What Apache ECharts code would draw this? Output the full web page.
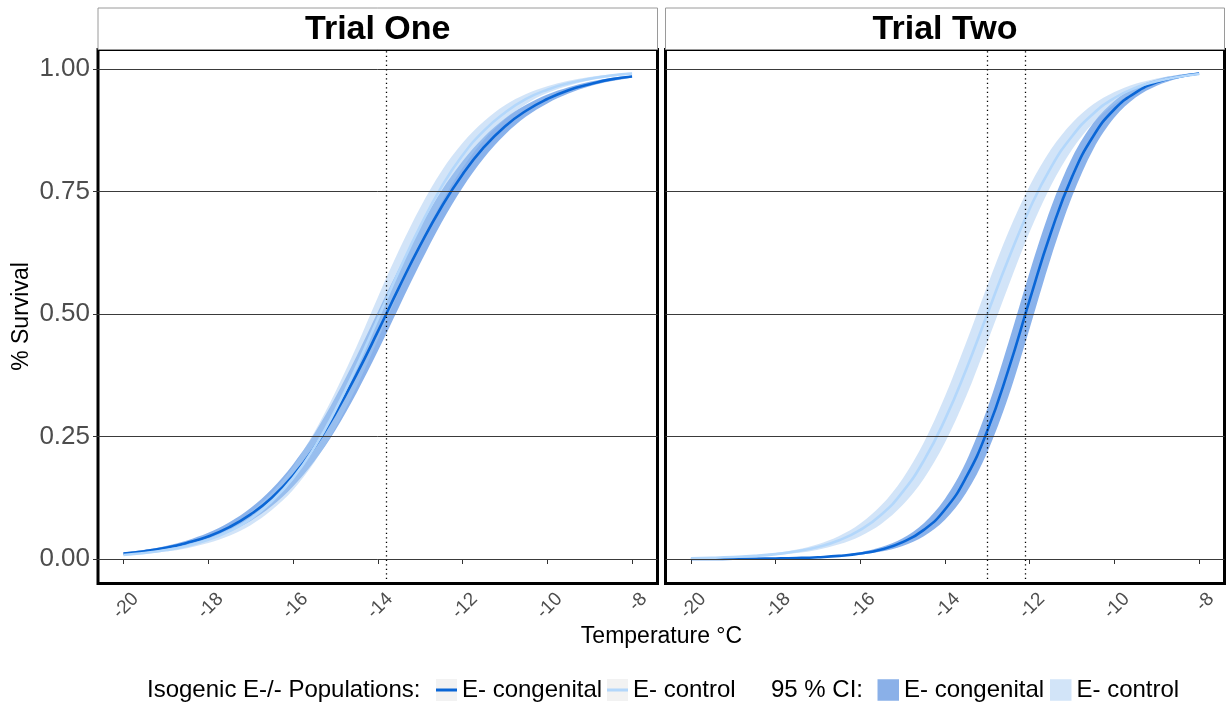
<!DOCTYPE html>
<html><head><meta charset="utf-8">
<script src="https://cdn.jsdelivr.net/npm/echarts@6/dist/echarts.min.js"></script>
<style>html,body{margin:0;padding:0;background:#fff}#c{width:1226px;height:704px}</style>
</head><body><div id="c"></div>
<script>
// ---------- data ----------
const temps = [-20,-19.5,-19,-18.5,-18,-17.5,-17,-16.5,-16,-15.5,-15,-14.5,-14,-13.5,-13,-12.5,-12,-11.5,-11,-10.5,-10,-9.5,-9,-8.5,-8];
const xTicks = [-20,-18,-16,-14,-12,-10,-8];
const yTicks = [0,0.25,0.5,0.75,1];
const panels = ['Trial One','Trial Two'];
const groups = ['E- congenital','E- control'];
const ld50One = [-13.8];
const ld50Two = [-13.0,-12.1];

const oneCongFit = [0.011,0.016,0.023,0.033,0.046,0.065,0.091,0.125,0.170,0.227,0.297,0.377,0.464,0.554,0.640,0.718,0.785,0.840,0.883,0.915,0.939,0.957,0.969,0.979,0.985];
const oneCongLo  = [0.0096,0.0137,0.0195,0.0277,0.0392,0.0554,0.0776,0.108,0.148,0.199,0.263,0.339,0.424,0.514,0.603,0.686,0.758,0.818,0.866,0.903,0.930,0.950,0.965,0.975,0.983];
const oneCongHi  = [0.0132,0.0187,0.0267,0.0379,0.0534,0.0748,0.104,0.143,0.193,0.255,0.330,0.414,0.504,0.593,0.677,0.751,0.812,0.861,0.899,0.927,0.948,0.963,0.974,0.982,0.987];
const oneCtrlFit = [0.0083,0.0123,0.0182,0.0267,0.0392,0.0571,0.082,0.118,0.165,0.227,0.304,0.393,0.490,0.588,0.679,0.759,0.824,0.874,0.911,0.939,0.958,0.971,0.980,0.987,0.991];
const oneCtrlLo  = [0.0069,0.0102,0.0151,0.0222,0.0326,0.0477,0.069,0.100,0.141,0.197,0.267,0.351,0.447,0.546,0.642,0.727,0.798,0.855,0.897,0.929,0.951,0.966,0.977,0.984,0.989];
const oneCtrlHi  = [0.0097,0.0144,0.0213,0.0312,0.0458,0.0665,0.096,0.136,0.189,0.258,0.341,0.434,0.534,0.630,0.717,0.791,0.849,0.893,0.926,0.949,0.965,0.976,0.984,0.989,0.993];

const twoCongFit = [0.0001,0.0002,0.0004,0.0006,0.0011,0.0020,0.0036,0.0063,0.0111,0.0196,0.0344,0.0595,0.101,0.167,0.262,0.387,0.529,0.666,0.780,0.863,0.918,0.952,0.973,0.984,0.991];
const twoCongLo  = [0.0001,0.0002,0.0003,0.0005,0.0009,0.0016,0.0028,0.0049,0.0086,0.0152,0.0268,0.0466,0.080,0.135,0.218,0.332,0.471,0.615,0.740,0.836,0.901,0.942,0.966,0.981,0.989];
const twoCongHi  = [0.0001,0.0003,0.0005,0.0008,0.0014,0.0025,0.0045,0.0079,0.0139,0.0244,0.0424,0.0731,0.123,0.199,0.307,0.442,0.586,0.717,0.819,0.890,0.935,0.963,0.979,0.988,0.993];
const twoCtrlFit = [0.0016,0.0025,0.0040,0.0063,0.0100,0.0157,0.0246,0.0384,0.0595,0.091,0.137,0.201,0.285,0.387,0.500,0.613,0.715,0.799,0.863,0.909,0.941,0.962,0.975,0.984,0.990];
const twoCtrlLo  = [0.0012,0.0019,0.0031,0.0049,0.0077,0.0121,0.0191,0.0299,0.0466,0.072,0.110,0.164,0.238,0.332,0.443,0.558,0.668,0.762,0.836,0.890,0.928,0.953,0.970,0.981,0.988];
const twoCtrlHi  = [0.0020,0.0031,0.0049,0.0077,0.0123,0.0193,0.0301,0.0469,0.0724,0.110,0.164,0.238,0.332,0.442,0.558,0.668,0.762,0.836,0.890,0.928,0.953,0.970,0.981,0.988,0.992];

// ---------- styling ----------
const FONT = '"Liberation Sans", Arial, Helvetica, sans-serif';
const lineColors = ['#0a66d6', '#b3d7fb'];
const bandFills = ['rgba(21,101,216,0.5)', 'rgba(165,201,241,0.5)'];
const bandLegend = ['#8ab0e8', '#d2e4f8'];

const panelData = [
  { fit: [oneCongFit, oneCtrlFit], lo: [oneCongLo, oneCtrlLo], hi: [oneCongHi, oneCtrlHi], ld50: ld50One },
  { fit: [twoCongFit, twoCtrlFit], lo: [twoCongLo, twoCtrlLo], hi: [twoCongHi, twoCtrlHi], ld50: ld50Two }
];

const gridDefs = [
  { left: 98, top: 49.5, width: 559.5, height: 534 },
  { left: 665.5, top: 49.5, width: 559, height: 534 }
];

const grids = gridDefs.map(g => Object.assign({}, g, {
  show: true, borderColor: '#000', borderWidth: 3, backgroundColor: 'transparent', containLabel: false
}));

const xAxes = panels.map((p, i) => ({
  type: 'value', gridIndex: i, min: -20.6, max: -7.4,
  axisLine: { show: false }, splitLine: { show: false },
  axisTick: { show: true, length: 5, lineStyle: { color: '#333', width: 1 }, customValues: xTicks },
  axisLabel: { customValues: xTicks, rotate: 45, fontSize: 19, lineHeight: 34, color: '#4d4d4d', margin: 0.5,
    fontFamily: FONT, formatter: v => '\n' + String(v) }
}));

const yAxes = panels.map((p, i) => ({
  type: 'value', gridIndex: i, min: -0.05, max: 1.04,
  axisLine: { show: false }, splitLine: { show: false },
  axisTick: { show: i === 0, length: 5, lineStyle: { color: '#333', width: 1 }, customValues: yTicks },
  axisLabel: { show: i === 0, customValues: yTicks, fontSize: 26, color: '#4d4d4d', margin: 8, fontFamily: FONT,
    formatter: v => v.toFixed(2) }
}));

// Catmull-Rom through pixel points -> cubic bezier path segments
function splinePath(pts) {
  let d = '';
  const n = pts.length;
  for (let i = 0; i < n - 1; i++) {
    const p0 = pts[Math.max(i - 1, 0)], p1 = pts[i], p2 = pts[i + 1], p3 = pts[Math.min(i + 2, n - 1)];
    const c1x = p1[0] + (p2[0] - p0[0]) / 6, c1y = p1[1] + (p2[1] - p0[1]) / 6;
    const c2x = p2[0] - (p3[0] - p1[0]) / 6, c2y = p2[1] - (p3[1] - p1[1]) / 6;
    d += ' C ' + c1x + ' ' + c1y + ' ' + c2x + ' ' + c2y + ' ' + p2[0] + ' ' + p2[1];
  }
  return d;
}

const series = [];
panelData.forEach((pd, p) => {
  groups.forEach((g, gi) => {
    const lo = pd.lo[gi], hi = pd.hi[gi];
    series.push({
      type: 'custom', name: 'CI ' + g, xAxisIndex: p, yAxisIndex: p, silent: true, z: 2, clip: true,
      itemStyle: { color: bandLegend[gi] },
      data: temps.map((t, k) => [t, lo[k], hi[k]]),
      encode: { x: 0, y: [1, 2] },
      renderItem: (params, api) => {
        if (params.dataIndex !== 0) return null;
        const up = temps.map((t, k) => api.coord([t, hi[k]]));
        const dn = temps.map((t, k) => api.coord([t, lo[k]])).reverse();
        const d = 'M ' + up[0][0] + ' ' + up[0][1] + splinePath(up) +
                  ' L ' + dn[0][0] + ' ' + dn[0][1] + splinePath(dn) + ' Z';
        return { type: 'path', shape: { pathData: d }, style: { fill: bandFills[gi], stroke: null } };
      }
    });
  });
  groups.forEach((g, gi) => {
    const s = {
      type: 'line', name: g, xAxisIndex: p, yAxisIndex: p, smooth: true, symbol: 'none', silent: true,
      lineStyle: { width: 2.6, color: lineColors[gi] }, itemStyle: { color: lineColors[gi] }, z: 3,
      data: temps.map((t, k) => [t, pd.fit[gi][k]])
    };
    if (gi === 0) {
      s.markLine = {
        silent: true, symbol: 'none', label: { show: false }, animation: false,
        lineStyle: { color: '#3a3a3a', width: 1, type: 'solid' },
        data: yTicks.map(v => ({ yAxis: v }))
      };
    } else {
      s.markLine = {
        silent: true, symbol: 'none', label: { show: false }, animation: false,
        lineStyle: { color: '#000', width: 1.3, type: [1.3, 3.2] },
        data: pd.ld50.map(v => ({ xAxis: v }))
      };
    }
    series.push(s);
  });
});

const legTop = 678;
const legends = [
  { left: 436, data: [{ name: groups[0], icon: 'rect' }], itemWidth: 21, itemHeight: 3 },
  { left: 607, data: [{ name: groups[1], icon: 'rect' }], itemWidth: 21, itemHeight: 3 },
  { left: 877.5, data: [{ name: 'CI ' + groups[0], icon: 'rect', itemStyle: { color: bandLegend[0], opacity: 1 } }], itemWidth: 21.5, itemHeight: 21.5 },
  { left: 1050, data: [{ name: 'CI ' + groups[1], icon: 'rect', itemStyle: { color: bandLegend[1], opacity: 1 } }], itemWidth: 21.5, itemHeight: 21.5 }
].map(l => Object.assign({
  top: legTop, padding: 0, selectedMode: false, itemGap: 0,
  textStyle: { fontSize: 24, color: '#000', fontFamily: FONT },
  formatter: n => n.replace(/^CI /, ''),
  itemStyle: { borderWidth: 0 }
}, l));

const graphics = [];
gridDefs.forEach((g, i) => {
  graphics.push({ type: 'rect', shape: { x: g.left, y: 8, width: g.width, height: 41.5 },
    style: { fill: '#fff', stroke: '#9a9a9a', lineWidth: 1 }, silent: true, z: 0 });
  graphics.push({ type: 'text', x: g.left + g.width / 2, y: 30, silent: true, z: 1,
    style: { text: panels[i], font: 'bold 34px ' + FONT, fill: '#000', align: 'center', verticalAlign: 'middle' } });
});
graphics.push({ type: 'text', x: 22, y: 316.5, rotation: Math.PI / 2, silent: true,
  style: { text: '% Survival', font: '23px ' + FONT, fill: '#000', align: 'center', verticalAlign: 'middle' } });
graphics.push({ type: 'text', x: 661.5, y: 637, silent: true,
  style: { text: 'Temperature °C', font: '23px ' + FONT, fill: '#000', align: 'center', verticalAlign: 'middle' } });
graphics.push({ type: 'text', x: 147, y: 690.5, silent: true,
  style: { text: 'Isogenic E-/- Populations:', font: '24px ' + FONT, fill: '#000', align: 'left', verticalAlign: 'middle' } });
graphics.push({ type: 'text', x: 771, y: 690.5, silent: true,
  style: { text: '95 % CI:', font: '24px ' + FONT, fill: '#000', align: 'left', verticalAlign: 'middle' } });
[436, 607].forEach(x => graphics.push({ type: 'rect', shape: { x: x, y: 679, width: 21, height: 22 },
  style: { fill: '#f2f2f2' }, silent: true, z: 0 }));

const chart = echarts.init(document.getElementById('c'), null, { renderer: 'canvas' });
chart.setOption({
  animation: false,
  backgroundColor: '#fff',
  textStyle: { fontFamily: FONT },
  grid: grids,
  xAxis: xAxes,
  yAxis: yAxes,
  legend: legends,
  graphic: { elements: graphics },
  series: series
});
</script></body></html>
